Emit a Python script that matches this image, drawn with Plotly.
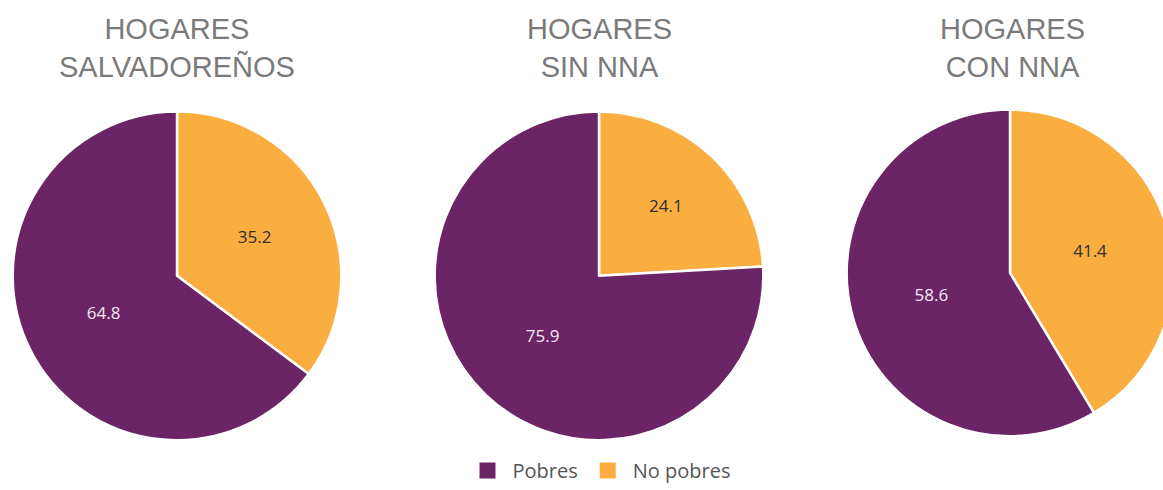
import plotly.graph_objects as go

W, H = 1180, 490

labels = ["Pobres", "No pobres"]
titles = ["HOGARES<br>SALVADOREÑOS", "HOGARES<br>SIN NNA", "HOGARES<br>CON NNA"]
pobres = [64.8, 75.9, 58.6]
no_pobres = [35.2, 24.1, 41.4]

colors = ["#6B2466", "#FBAE40"]
text_colors = ["#F3E9F2", "#2F2F2F"]

# pixel boxes (left, right, top, bottom) for each pie
boxes = [(12, 342, 112, 442), (434, 764, 112, 442), (846, 1174, 110, 438)]
title_x = [177, 599, 1012]

fig = go.Figure()
for i in range(3):
    l, r, t, b = boxes[i]
    # slices start at 12 o'clock: "No pobres" first, drawn clockwise
    fig.add_trace(go.Pie(
        labels=labels[::-1],
        values=[no_pobres[i], pobres[i]],
        sort=False,
        direction="clockwise",
        rotation=0,
        textinfo="value",
        texttemplate="%{value:.1f}",
        textposition="inside",
        insidetextorientation="horizontal",
        textfont=dict(color=text_colors[::-1], size=17, family="Open Sans"),
        marker=dict(colors=colors[::-1], line=dict(color="white", width=2.5)),
        domain=dict(x=[l / W, r / W], y=[(H - b) / H, (H - t) / H]),
        showlegend=False,
        hoverinfo="label+value",
    ))
    fig.add_annotation(
        x=title_x[i] / W, y=1 - 11 / H, xref="paper", yref="paper",
        xanchor="center", yanchor="top", showarrow=False,
        text=titles[i],
        font=dict(size=29, color="#7A7A7A", family="Liberation Sans"),
    )

# legend entries with square swatches
for lab, col in zip(labels, colors):
    fig.add_trace(go.Scatter(
        x=[None], y=[None], mode="markers", name=lab,
        marker=dict(symbol="square", size=30, color=col),
        showlegend=True,
    ))

fig.update_layout(
    width=W, height=H,
    margin=dict(l=0, r=0, t=0, b=0),
    paper_bgcolor="white", plot_bgcolor="white",
    xaxis=dict(visible=False), yaxis=dict(visible=False),
    legend=dict(orientation="h", x=599 / W, xanchor="center", y=-0.005, yanchor="bottom",
                font=dict(size=20, color="#555555", family="Open Sans"),
                itemwidth=40, traceorder="normal", itemsizing="trace"),
)

fig.write_html("out.html", post_script="document.body.style.overflow='hidden';document.documentElement.style.overflow='hidden';document.body.style.margin='0';")
